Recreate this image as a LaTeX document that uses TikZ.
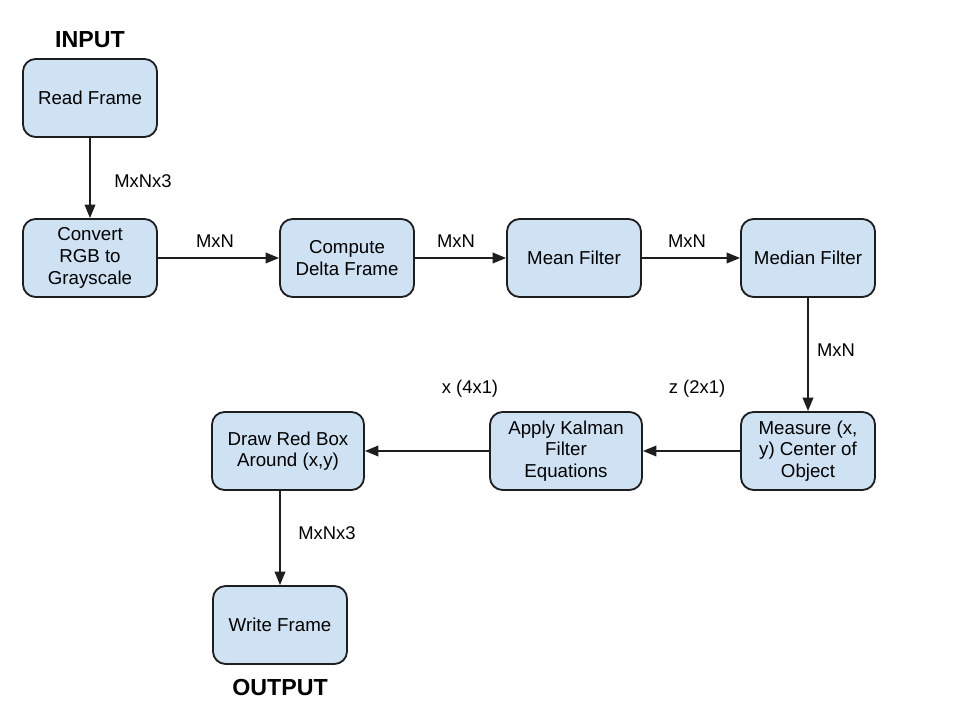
\documentclass[tikz,border=0pt]{standalone}
\usepackage{fontspec}
\setmainfont{Liberation Sans}
\usetikzlibrary{arrows.meta}
\definecolor{boxfill}{HTML}{CFE2F3}
\definecolor{boxline}{HTML}{1E1E1E}
\tikzset{
    stage/.style={draw=boxline,fill=boxfill,line width=1.3pt,rounded corners=9pt,
        minimum width=3.35cm,minimum height=1.95cm,align=center,
        font=\fontsize{13.3}{15.4}\selectfont},
    flow/.style={draw=boxline,line width=1.2pt,-{Triangle[length=9.5pt,width=7.5pt]}},
    dims/.style={font=\fontsize{13.1}{15.4}\selectfont},
    tag/.style={font=\fontsize{16.5}{18}\selectfont\bfseries}
}
\begin{document}
\begin{tikzpicture}[x=0.025cm,y=-0.025cm]
    \useasboundingbox (0,0) rectangle (960,720);
    % top row
    \node[stage] (read) at (90,98) {Read Frame};
    \node[stage] (gray) at (90,258) {Convert\\RGB to\\Grayscale};
    \node[stage] (delta) at (347,258) {Compute\\Delta Frame};
    \node[stage] (mean) at (574,258) {Mean Filter};
    \node[stage] (median) at (808,258) {Median Filter};
    % bottom row
    \node[stage] (measure) at (808,451) {Measure (x,\\y) Center of\\Object};
    \node[stage,minimum width=3.8cm] (kalman) at (566,451) {Apply Kalman\\Filter\\Equations};
    \node[stage,minimum width=3.8cm] (redbox) at (288,451) {Draw Red Box\\Around (x,y)};
    \node[stage] (write) at (280,625) {Write Frame};
    % in and out
    \node[tag] (input) at (90,40) {INPUT};
    \node[tag] (output) at (280,688) {OUTPUT};
    % connectors
    \draw[flow] (read) -- (gray);
    \draw[flow] (gray) -- (delta);
    \draw[flow] (delta) -- (mean);
    \draw[flow] (mean) -- (median);
    \draw[flow] (median) -- (measure);
    \draw[flow] (measure) -- (kalman);
    \draw[flow] (kalman) -- (redbox);
    \draw[flow] (write.north |- redbox.south) -- (write.north);
    % sizes
    \node[dims] (d1) at (143,181) {MxNx3};
    \node[dims] (d2) at (215,241) {MxN};
    \node[dims] (d3) at (456,241) {MxN};
    \node[dims] (d4) at (687,241) {MxN};
    \node[dims] (d5) at (836,350) {MxN};
    \node[dims] (d6) at (697,389) {z (2x1)};
    \node[dims] (d7) at (470,389) {x (4x1)};
    \node[dims] (d8) at (327,533) {MxNx3};
\end{tikzpicture}
\end{document}
